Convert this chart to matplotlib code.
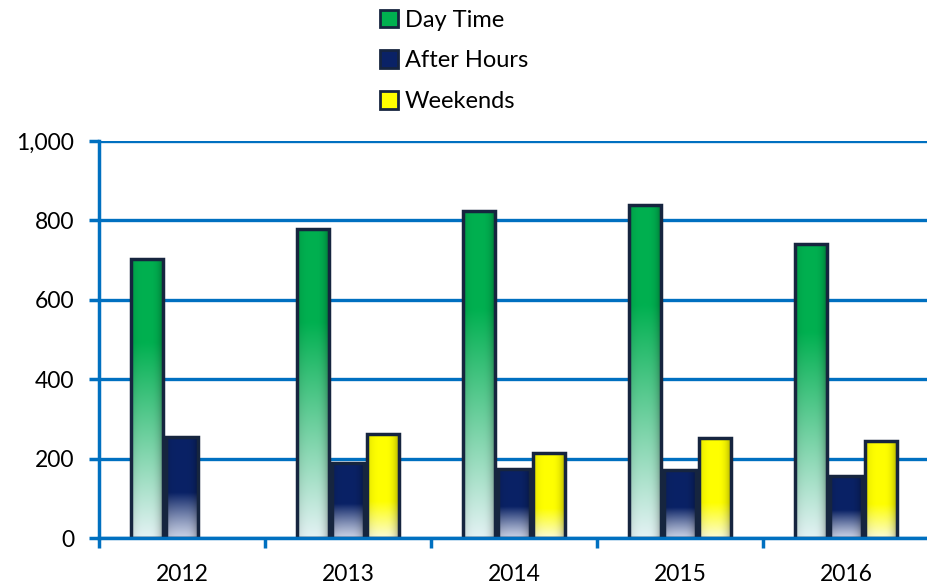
import numpy as np
import matplotlib
matplotlib.use("Agg")
import matplotlib.pyplot as plt
from matplotlib.patches import Patch
from matplotlib.ticker import FuncFormatter
from matplotlib.colors import to_rgb

plt.rcParams['font.family'] = ['Lato', 'DejaVu Sans']

years = ["2012", "2013", "2014", "2015", "2016"]
day_time = [703, 778, 824, 839, 741]
after_hours = [254, 189, 174, 171, 156]
weekends = [np.nan, 262, 214, 252, 244]

series = [
    ("Day Time", day_time, "#00b050", "#e4f2f4", 0.70, 1.0),
    ("After Hours", after_hours, "#0a2266", "#c8d0e4", 0.45, 1.2),
    ("Weekends", weekends, "#ffff00", "#fbfbd8", 0.35, 1.0),
]

BLUE = "#0070c0"
EDGE = "#16253f"

fig = plt.figure(figsize=(9.27, 5.86), dpi=100)
ax = fig.add_axes([0.1068, 0.0819, 0.8954, 0.6775])

x = np.arange(len(years))
w = 0.193
off = 0.211


def gradient_img(base, light, fade, gamma):
    n, m = 200, 40
    t = np.linspace(0, 1, n)[:, None]  # 0 bottom, 1 top
    f = np.clip(t / fade, 0, 1) ** gamma
    b = np.array(to_rgb(base))
    l = np.array(to_rgb(light))
    img = l[None, None, :] * (1 - f[..., None]) + b[None, None, :] * f[..., None]
    img = np.repeat(img, m, axis=1)
    u = np.linspace(-1, 1, m)[None, :]
    shade = 1 - 0.35 * np.clip(u, 0, 1) ** 3 - 0.12 * np.clip(-u, 0, 1) ** 3
    img = img * shade[..., None]
    return np.clip(img, 0, 1)


for i, (name, vals, base, light, fade, gamma) in enumerate(series):
    bars = ax.bar(x + (i - 1) * off, vals, width=w, facecolor="none",
                  edgecolor=EDGE, linewidth=2.5, zorder=4)
    img = gradient_img(base, light, fade, gamma)
    for b, v in zip(bars, vals):
        if np.isnan(v):
            continue
        x0, y0 = b.get_x(), b.get_y()
        im = ax.imshow(img, extent=[x0, x0 + b.get_width(), y0, y0 + b.get_height()],
                       origin="lower", aspect="auto", zorder=3, interpolation="bilinear")
        im.set_clip_path(b)

ax.set_xlim(-0.5, 4.5)
ax.set_ylim(0, 1000)
ax.set_yticks(np.arange(0, 1001, 200))
ax.yaxis.set_major_formatter(FuncFormatter(lambda v, p: f"{int(v):,}"))
ax.set_xticks(x)
ax.set_xticklabels(years)
ax.set_xticks(np.arange(-0.5, 4.6, 1), minor=True)
ax.tick_params(axis="x", which="major", length=0, pad=19, labelsize=16.5)
ax.tick_params(axis="x", which="minor", length=7, width=2.5, color=BLUE, direction="out")
ax.tick_params(axis="y", length=7, width=2.5, color=BLUE, direction="out", labelsize=16.5, pad=11)
ax.grid(axis="y", color=BLUE, linewidth=2.4, zorder=1)
ax.set_axisbelow(True)
for s in ["top", "right"]:
    ax.spines[s].set_visible(False)
for s in ["left", "bottom"]:
    ax.spines[s].set_color(BLUE)
    ax.spines[s].set_linewidth(2.5)
ax.spines["bottom"].set_zorder(5)
ax.patch.set_visible(False)

handles = [Patch(facecolor=s[2], edgecolor=EDGE, linewidth=2) for s in series]
fig.legend(handles, [s[0] for s in series], loc="upper center",
           bbox_to_anchor=(0.49, 1.02), frameon=False, fontsize=17,
           handlelength=0.75, handleheight=0.75, handletextpad=0.3, labelspacing=0.84)

fig.savefig("out.png", dpi=100)
